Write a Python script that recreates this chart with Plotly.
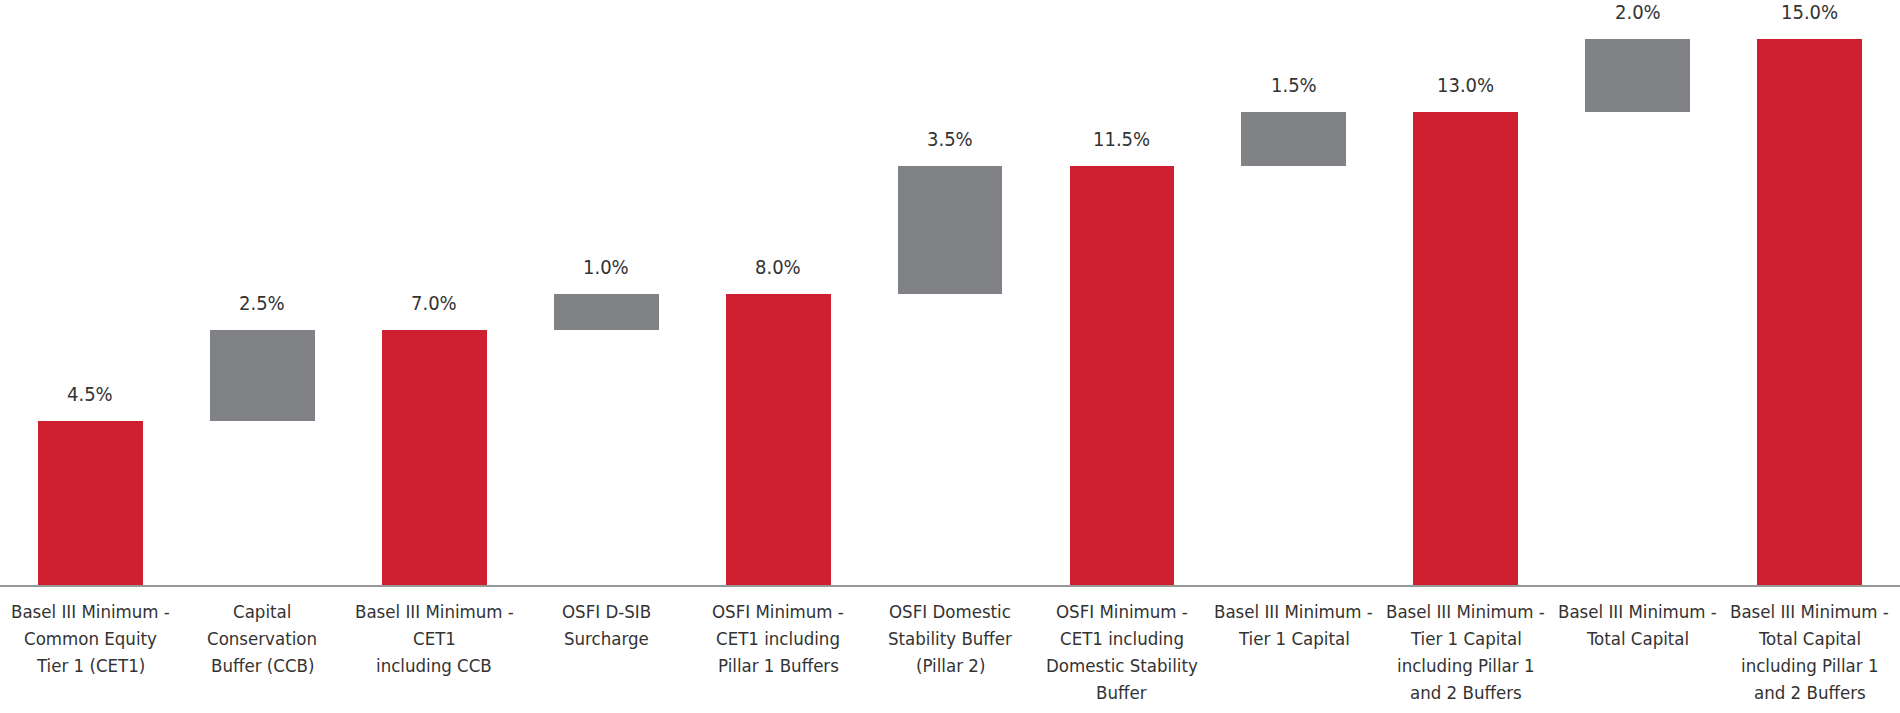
import plotly.graph_objects as go

categories = [
    "Basel III Minimum -<br>Common Equity<br>Tier 1 (CET1)",
    "Capital<br>Conservation<br>Buffer (CCB)",
    "Basel III Minimum -<br>CET1<br>including CCB",
    "OSFI D-SIB<br>Surcharge",
    "OSFI Minimum -<br>CET1 including<br>Pillar 1 Buffers",
    "OSFI Domestic<br>Stability Buffer<br>(Pillar 2)",
    "OSFI Minimum -<br>CET1 including<br>Domestic Stability<br>Buffer",
    "Basel III Minimum -<br>Tier 1 Capital",
    "Basel III Minimum -<br>Tier 1 Capital<br>including Pillar 1<br>and 2 Buffers",
    "Basel III Minimum -<br>Total Capital",
    "Basel III Minimum -<br>Total Capital<br>including Pillar 1<br>and 2 Buffers",
]
values = [4.5, 2.5, 7.0, 1.0, 8.0, 3.5, 11.5, 1.5, 13.0, 2.0, 15.0]
kinds = ["total", "add", "total", "add", "total", "add", "total", "add", "total", "add", "total"]

RED = "#CE1F30"
GRAY = "#808285"
FONT = "DejaVu Sans Condensed, Roboto, sans-serif"

bases = []
running = 0.0
for v, k in zip(values, kinds):
    if k == "total":
        bases.append(0)
        running = v
    else:
        bases.append(running)
        running += v

colors = [RED if k == "total" else GRAY for k in kinds]
labels = [f"{v:.1f}%" for v in values]

x = list(range(len(categories)))

fig = go.Figure(go.Bar(
    x=x, y=values, base=bases,
    marker=dict(color=colors, line=dict(width=0)),
    width=0.61,
    hoverinfo="skip",
))

# value labels above each bar
for xi, v, b, lab in zip(x, values, bases, labels):
    fig.add_annotation(
        x=xi, y=b + v, text=lab, showarrow=False,
        yanchor="middle", yshift=27,
        font=dict(size=20, color="#333333", family=FONT),
    )

# category labels below the axis, one line per annotation for exact line spacing
for xi, cat in zip(x, categories):
    for j, line in enumerate(cat.split("<br>")):
        fig.add_annotation(
            x=xi, y=0, text=line, showarrow=False,
            yanchor="middle", xanchor="center",
            yshift=-(26 + 27.3 * j),
            font=dict(size=18.5, color="#333333", family=FONT),
        )

fig.update_layout(
    width=1900, height=713,
    margin=dict(l=0, r=0, t=39, b=128, autoexpand=False),
    plot_bgcolor="white", paper_bgcolor="white",
    showlegend=False,
    font=dict(family=FONT, color="#333333"),
    xaxis=dict(
        range=[-0.525, 10.525],
        showline=True, linecolor="#999999", linewidth=2,
        showgrid=False, zeroline=False, ticks="",
        showticklabels=False, automargin=False,
    ),
    yaxis=dict(range=[0, 15], visible=False, showgrid=False, zeroline=False, automargin=False),
    bargap=0,
)

fig.write_html("out.html", config={"displayModeBar": False},
               post_script="document.body.style.margin='0';")
